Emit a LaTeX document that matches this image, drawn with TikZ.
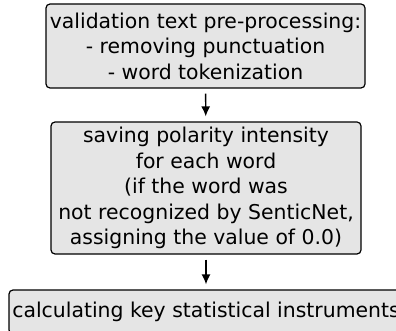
\documentclass[tikz,border=0pt]{standalone}
\usepackage{fontspec}
\setmainfont{DejaVu Sans}
\usepackage{tikz}
\usetikzlibrary{arrows.meta}

\tikzset{
    stagebox/.style={draw, line width=1.2pt, rounded corners=4pt, fill=black!10,
        align=center, inner sep=0pt, font=\fontsize{20.4}{25.5}\selectfont},
    flow/.style={-{Latex[length=10pt,width=9pt]}, line width=1.4pt,
        shorten <=5pt, shorten >=5pt}
}

\begin{document}
\begin{tikzpicture}[x=1pt,y=1pt]
        \useasboundingbox (0,0) rectangle (396,-331);
        \clip (0,0) rectangle (396,-331);

        % processing stages
        \node[stagebox, minimum width=319pt, minimum height=84pt] (preproc) at (205.5,-46)
            {validation text pre-processing:\\- removing punctuation\\- word tokenization};
        \node[stagebox, minimum width=310pt, minimum height=132pt] (polarity) at (206,-188)
            {saving polarity intensity\\for each word\\(if the word was\\not recognized by SenticNet,\\assigning the value of 0.0)};
        \node[stagebox, minimum width=394pt, minimum height=44pt] (stats) at (206,-312)
            {calculating key statistical instruments};

        % connectors
        \draw[flow] (preproc) -- (polarity);
        \draw[flow] (polarity) -- (stats);
    \end{tikzpicture}
\end{document}
